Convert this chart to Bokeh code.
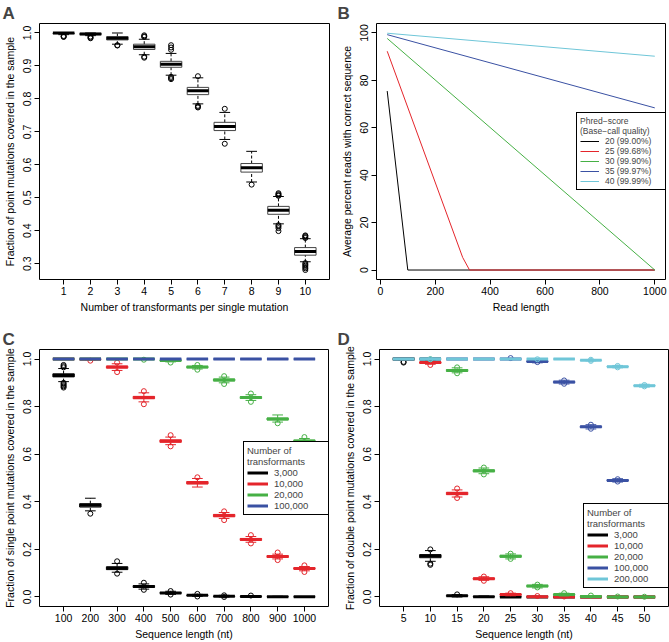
from bokeh.plotting import figure
from bokeh.layouts import column, row
from bokeh.models import Range1d, FixedTicker, Legend, LegendItem, PrintfTickFormatter
from bokeh.embed import file_html
from bokeh.resources import INLINE

FONT = "Liberation Sans"
BLACK = "#000000"
RED = "#E4252B"
GREEN = "#46B045"
BLUE = "#3A51A3"
CYAN = "#6FC6D8"

# ---------------- Panel A data ----------------
a_labels = ["1", "2", "3", "4", "5", "6", "7", "8", "9", "10"]
a_med = [1.000, 0.997, 0.984, 0.958, 0.905, 0.825, 0.716, 0.591, 0.462, 0.337]
a_q1 = [0.998, 0.995, 0.979, 0.950, 0.896, 0.813, 0.704, 0.578, 0.450, 0.326]
a_q3 = [1.000, 0.999, 0.989, 0.966, 0.914, 0.835, 0.729, 0.604, 0.474, 0.349]
a_lo = [0.995, 0.992, 0.966, 0.934, 0.872, 0.785, 0.677, 0.548, 0.421, 0.306]
a_hi = [1.000, 1.000, 1.000, 0.981, 0.938, 0.864, 0.759, 0.641, 0.504, 0.376]
a_out = [
    [0.991, 0.989, 0.988],
    [0.989, 0.986, 0.984],
    [0.962, 0.963],
    [0.993, 0.990, 0.988, 0.928, 0.925],
    [0.963, 0.956, 0.949, 0.867, 0.863, 0.860],
    [0.869, 0.779, 0.776, 0.774],
    [0.770, 0.664],
    [0.540],
    [0.514, 0.511, 0.508, 0.506, 0.417, 0.413, 0.408, 0.399],
    [0.386, 0.384, 0.381, 0.378, 0.302, 0.298, 0.294, 0.290, 0.286, 0.281],
]
a_yticks = [0.3, 0.4, 0.5, 0.6, 0.7, 0.8, 0.9, 1.0]

# ---------------- Panel B data ----------------
b_names = ["20 (99.00%)", "25 (99.68%)", "30 (99.90%)", "35 (99.97%)", "40 (99.99%)"]
b20_x = [25, 100, 1000]
b20_y = [75.5, 0, 0]
b25_x = [25, 300, 325, 1000]
b25_y = [92.3, 5.3, 0, 0]
b30_x = [25, 1000]
b30_y = [97.7, 0]
b35_x = [25, 1000]
b35_y = [99.3, 68.4]
b40_x = [25, 1000]
b40_y = [99.9, 90.2]
b_xticks = [0, 200, 400, 600, 800, 1000]
b_yticks = [0, 20, 40, 60, 80, 100]

# ---------------- Panel C data ----------------
c_labels = ["100", "200", "300", "400", "500", "600", "700", "800", "900", "1000"]
c_names = ["3,000", "10,000", "20,000", "100,000"]
c3_med = [0.931, 0.385, 0.121, 0.044, 0.017, 0.007, 0.003, 0.002, 0.001, 0.001]
c3_q1 = [0.925, 0.378, 0.115, 0.040, 0.015, 0.006, 0.002, 0.001, 0.0005, 0.0003]
c3_q3 = [0.938, 0.392, 0.127, 0.048, 0.019, 0.008, 0.004, 0.003, 0.0015, 0.001]
c3_lo = [0.905, 0.362, 0.104, 0.033, 0.011, 0.003, 0.0, 0.0, 0.0, 0.0]
c3_hi = [0.960, 0.415, 0.141, 0.055, 0.024, 0.011, 0.007, 0.005, 0.003, 0.002]
c3_out = [[0.975, 0.970, 0.965, 0.900, 0.895, 0.890, 0.885, 0.880], [0.350],
          [0.150, 0.098], [0.060, 0.030], [0.025, 0.010], [0.013, 0.002],
          [0.007, 0.0], [0.006], [], []]
c10_med = [1.000, 0.999, 0.966, 0.838, 0.655, 0.480, 0.342, 0.242, 0.170, 0.120]
c10_q1 = [1.000, 0.998, 0.962, 0.833, 0.650, 0.475, 0.337, 0.238, 0.166, 0.117]
c10_q3 = [1.000, 1.000, 0.970, 0.843, 0.660, 0.485, 0.347, 0.246, 0.174, 0.123]
c10_lo = [1.000, 0.996, 0.952, 0.820, 0.640, 0.462, 0.330, 0.230, 0.160, 0.110]
c10_hi = [1.000, 1.000, 0.980, 0.858, 0.672, 0.498, 0.355, 0.254, 0.180, 0.128]
c10_out = [[], [0.993], [0.985, 0.945], [0.865, 0.810], [0.680, 0.633], [0.503],
           [0.360, 0.323], [0.260, 0.225], [0.187, 0.155], [0.133, 0.105]]
c20_med = [1.0, 1.0, 1.0, 1.0, 0.994, 0.966, 0.912, 0.838, 0.748, 0.655]
c20_q1 = [1.0, 1.0, 1.0, 1.0, 0.992, 0.963, 0.908, 0.834, 0.744, 0.651]
c20_q3 = [1.0, 1.0, 1.0, 1.0, 0.996, 0.969, 0.916, 0.842, 0.752, 0.659]
c20_lo = [1.0, 1.0, 1.0, 0.999, 0.988, 0.958, 0.900, 0.826, 0.735, 0.644]
c20_hi = [1.0, 1.0, 1.0, 1.0, 1.0, 0.973, 0.924, 0.850, 0.765, 0.666]
c20_out = [[], [], [], [0.997], [0.985], [0.975, 0.955], [0.928, 0.895],
           [0.855, 0.820], [0.730], [0.672, 0.637]]
c100_med = [1.0] * 10
c100_q1 = [1.0] * 10
c100_q3 = [1.0] * 10
c100_lo = [1.0] * 10
c100_hi = [1.0] * 10
c100_out = [[] for _ in range(10)]
cd_yticks = [0.0, 0.2, 0.4, 0.6, 0.8, 1.0]

# ---------------- Panel D data ----------------
d_labels = ["5", "10", "15", "20", "25", "30", "35", "40", "45", "50"]
d_names = ["3,000", "10,000", "20,000", "100,000", "200,000"]
d3_med = [1.0, 0.172, 0.005, 0.001, 0.0, 0.0, 0.0, 0.0, 0.0, 0.0]
d3_q1 = [1.0, 0.165, 0.003, 0.0, 0.0, 0.0, 0.0, 0.0, 0.0, 0.0]
d3_q3 = [1.0, 0.178, 0.007, 0.002, 0.001, 0.0, 0.0, 0.0, 0.0, 0.0]
d3_lo = [0.995, 0.150, 0.0, 0.0, 0.0, 0.0, 0.0, 0.0, 0.0, 0.0]
d3_hi = [1.0, 0.195, 0.010, 0.004, 0.002, 0.0, 0.0, 0.0, 0.0, 0.0]
d3_out = [[0.988, 0.985], [0.200, 0.140, 0.135], [0.011], [], [], [], [], [], [], []]
d10_med = [1.0, 0.985, 0.435, 0.077, 0.010, 0.001, 0.0, 0.0, 0.0, 0.0]
d10_q1 = [1.0, 0.982, 0.430, 0.074, 0.008, 0.0005, 0.0, 0.0, 0.0, 0.0]
d10_q3 = [1.0, 0.988, 0.440, 0.080, 0.012, 0.0015, 0.0005, 0.0, 0.0, 0.0]
d10_lo = [1.0, 0.978, 0.420, 0.070, 0.005, 0.0, 0.0, 0.0, 0.0, 0.0]
d10_hi = [1.0, 0.995, 0.450, 0.085, 0.016, 0.003, 0.001, 0.0, 0.0, 0.0]
d10_out = [[], [0.975], [0.456, 0.416], [0.086, 0.068], [0.016], [0.004], [0.002],
           [], [], []]
d20_med = [1.0, 1.0, 0.952, 0.530, 0.171, 0.046, 0.010, 0.002, 0.0, 0.0]
d20_q1 = [1.0, 1.0, 0.948, 0.526, 0.167, 0.043, 0.008, 0.001, 0.0, 0.0]
d20_q3 = [1.0, 1.0, 0.956, 0.534, 0.175, 0.049, 0.012, 0.003, 0.0005, 0.0003]
d20_lo = [1.0, 0.999, 0.942, 0.518, 0.160, 0.038, 0.004, 0.0, 0.0, 0.0]
d20_hi = [1.0, 1.0, 0.963, 0.542, 0.181, 0.053, 0.016, 0.005, 0.002, 0.001]
d20_out = [[], [0.999], [0.965, 0.940], [0.544, 0.515], [0.182, 0.160],
           [0.052, 0.040], [0.016], [0.006], [0.002], [0.001]]
d100_labels = ["5", "10", "15", "20", "25", "30", "35", "40", "45"]
d100_med = [1.0, 1.0, 1.0, 1.0, 1.0, 0.990, 0.903, 0.715, 0.490]
d100_q1 = [1.0, 1.0, 1.0, 1.0, 1.0, 0.988, 0.900, 0.712, 0.487]
d100_q3 = [1.0, 1.0, 1.0, 1.0, 1.0, 0.992, 0.906, 0.718, 0.493]
d100_lo = [1.0, 1.0, 1.0, 1.0, 0.999, 0.984, 0.895, 0.706, 0.483]
d100_hi = [1.0, 1.0, 1.0, 1.0, 1.0, 0.996, 0.911, 0.724, 0.497]
d100_out = [[], [], [], [], [1.004], [0.987], [0.910, 0.896], [0.724, 0.707], [0.495, 0.485]]
d200_med = [1.0, 1.0, 1.0, 1.0, 1.0, 1.0, 1.0, 0.995, 0.968, 0.888]
d200_q1 = [1.0, 1.0, 1.0, 1.0, 1.0, 1.0, 1.0, 0.994, 0.966, 0.886]
d200_q3 = [1.0, 1.0, 1.0, 1.0, 1.0, 1.0, 1.0, 0.996, 0.970, 0.890]
d200_lo = [1.0, 1.0, 1.0, 1.0, 1.0, 1.0, 0.999, 0.992, 0.963, 0.882]
d200_hi = [1.0, 1.0, 1.0, 1.0, 1.0, 1.0, 1.0, 0.998, 0.973, 0.894]
d200_out = [[], [0.999], [], [], [], [0.999], [], [0.997, 0.992], [0.971, 0.965], [0.891, 0.885]]


def style(p, xticks, xlabels, yticks, yfmt, xlabel, ylabel, panel, title_offset):
    p.outline_line_color = "black"
    p.outline_line_width = 1
    p.outline_line_alpha = 1
    p.xgrid.visible = False
    p.ygrid.visible = False
    p.background_fill_color = "white"
    p.border_fill_color = "white"
    for ax in (p.xaxis[0], p.yaxis[0]):
        ax.axis_line_color = None
        ax.major_tick_out = 5
        ax.major_tick_in = 0
        ax.major_tick_line_color = "black"
        ax.minor_tick_line_color = None
        ax.major_label_text_font = FONT
        ax.major_label_text_font_size = "10.5px"
        ax.major_label_text_color = "black"
        ax.axis_label_text_font = FONT
        ax.axis_label_text_font_size = "10.5px"
        ax.axis_label_text_font_style = "normal"
        ax.axis_label_text_color = "black"
    p.xaxis.ticker = FixedTicker(ticks=xticks)
    if xlabels is not None:
        p.xaxis.major_label_overrides = {t: l for t, l in zip(xticks, xlabels)}
    p.yaxis.ticker = FixedTicker(ticks=yticks)
    if yfmt is not None:
        p.yaxis.formatter = PrintfTickFormatter(format=yfmt)
    p.yaxis.major_label_orientation = "vertical"
    p.xaxis.major_label_standoff = 2
    p.xaxis.axis_label_standoff = 3
    p.yaxis.major_label_standoff = 3
    p.yaxis.axis_label_standoff = 5
    p.xaxis.axis_label = xlabel
    p.yaxis.axis_label = ylabel
    p.title.text = panel
    p.title.text_font = FONT
    p.title.text_font_size = "17px"
    p.title.text_font_style = "bold"
    p.title.align = "left"
    p.title.standoff = 2
    p.title.offset = title_offset


def boxes(p, xs, med, q1, q3, lo, hi, outs, color, box_color, w=0.8):
    x0 = [x - w / 2 for x in xs]
    x1 = [x + w / 2 for x in xs]
    s0 = [x - w / 4 for x in xs]
    s1 = [x + w / 4 for x in xs]
    p.segment(x0=xs, y0=q3, x1=xs, y1=hi, line_color=color, line_width=1, line_dash="3 2")
    p.segment(x0=xs, y0=lo, x1=xs, y1=q1, line_color=color, line_width=1, line_dash="3 2")
    p.segment(x0=s0, y0=hi, x1=s1, y1=hi, line_color=color, line_width=1)
    p.segment(x0=s0, y0=lo, x1=s1, y1=lo, line_color=color, line_width=1)
    p.quad(left=x0, right=x1, bottom=q1, top=q3, fill_color=None, line_color=box_color, line_width=1)
    mr = p.segment(x0=x0, y0=med, x1=x1, y1=med, line_color=color, line_width=3)
    ox, oy = [], []
    for x, o in zip(xs, outs):
        ox += [x] * len(o)
        oy += o
    p.scatter(x=ox, y=oy, marker="circle", size=5, fill_color=None, line_color=color, line_width=1)
    return mr


def make_legend(items, title, loc, font_size, glyph_w, label_w, row_h, pad):
    leg = Legend(items=items, title=title, location=loc)
    leg.title_text_font = FONT
    leg.title_text_font_size = font_size
    leg.title_text_font_style = "normal"
    leg.title_text_line_height = 1.05
    leg.title_standoff = 0
    leg.label_text_font = FONT
    leg.label_text_font_size = font_size
    leg.border_line_color = "black"
    leg.border_line_width = 1
    leg.border_line_alpha = 1
    leg.background_fill_color = "white"
    leg.background_fill_alpha = 1
    leg.padding = pad
    leg.spacing = 0
    leg.margin = 0
    leg.label_standoff = 6
    leg.glyph_width = glyph_w
    leg.glyph_height = row_h
    leg.label_height = row_h
    leg.label_width = label_w
    return leg


# ---------------- Panel A ----------------
pA = figure(width=335, height=320, output_backend="svg", toolbar_location=None,
            x_range=Range1d(0.1, 10.9), y_range=Range1d(0.2522, 1.0288),
            min_border_left=39, min_border_right=6, min_border_top=23, min_border_bottom=39)
a_x = list(range(1, len(a_labels) + 1))
boxes(pA, a_x, a_med, a_q1, a_q3, a_lo, a_hi, a_out, BLACK, "#444444")
style(pA, a_x, a_labels, a_yticks, "%.1f",
      "Number of transformants per single mutation",
      "Fraction of point mutations covered in the sample", "A", -37)

# ---------------- Panel B ----------------
pB = figure(width=334, height=320, output_backend="svg", toolbar_location=None,
            x_range=Range1d(-14, 1039), y_range=Range1d(-4, 104),
            min_border_left=41, min_border_right=4, min_border_top=22, min_border_bottom=41)
b_series = [(b20_x, b20_y, BLACK), (b25_x, b25_y, RED), (b30_x, b30_y, GREEN),
            (b35_x, b35_y, BLUE), (b40_x, b40_y, CYAN)]
b_items = []
for (xs, ys, col), name in zip(b_series, b_names):
    r = pB.line(x=xs, y=ys, line_color=col, line_width=1)
    b_items.append(LegendItem(label=name, renderers=[r]))
style(pB, b_xticks, None, b_yticks, None,
      "Read length", "Average percent reads with correct sequence", "B", -39)
pB.add_layout(make_legend(b_items, "Phred\u2212score\n(Base\u2212call quality)", (200, 89),
                          "8.5px", 19, 58, 8, 3), "center")

# ---------------- Panel C ----------------
pC = figure(width=335, height=322, output_backend="svg", toolbar_location=None,
            x_range=Range1d(0.1, 10.9), y_range=Range1d(-0.04, 1.04),
            min_border_left=39, min_border_right=7, min_border_top=23, min_border_bottom=34)
c_x = list(range(1, len(c_labels) + 1))
c_series = [
    (c3_med, c3_q1, c3_q3, c3_lo, c3_hi, c3_out, BLACK),
    (c10_med, c10_q1, c10_q3, c10_lo, c10_hi, c10_out, RED),
    (c20_med, c20_q1, c20_q3, c20_lo, c20_hi, c20_out, GREEN),
    (c100_med, c100_q1, c100_q3, c100_lo, c100_hi, c100_out, BLUE),
]
c_items = []
for (med, q1, q3, lo, hi, out, col), name in zip(c_series, c_names):
    mr = boxes(pC, c_x, med, q1, q3, lo, hi, out, col, col)
    c_items.append(LegendItem(label=name, renderers=[mr]))
style(pC, c_x, c_labels, cd_yticks, "%.1f", "Sequence length (nt)",
      "Fraction of single point mutations covered in the sample", "C", -37)
pC.add_layout(make_legend(c_items, "Number of\ntransformants", (204, 91),
                          "9.5px", 21, 54, 9, 3), "center")

# ---------------- Panel D ----------------
pD = figure(width=334, height=322, output_backend="svg", toolbar_location=None,
            x_range=Range1d(0.1, 10.9), y_range=Range1d(-0.04, 1.04),
            min_border_left=44, min_border_right=1, min_border_top=29, min_border_bottom=34)
d_pos = {lab: i + 1 for i, lab in enumerate(d_labels)}
d_x = [d_pos[l] for l in d_labels]
d100_x = [d_pos[l] for l in d100_labels]
d_series = [
    (d_x, d3_med, d3_q1, d3_q3, d3_lo, d3_hi, d3_out, BLACK),
    (d_x, d10_med, d10_q1, d10_q3, d10_lo, d10_hi, d10_out, RED),
    (d_x, d20_med, d20_q1, d20_q3, d20_lo, d20_hi, d20_out, GREEN),
    (d100_x, d100_med, d100_q1, d100_q3, d100_lo, d100_hi, d100_out, BLUE),
    (d_x, d200_med, d200_q1, d200_q3, d200_lo, d200_hi, d200_out, CYAN),
]
d_items = []
for (xs, med, q1, q3, lo, hi, out, col), name in zip(d_series, d_names):
    mr = boxes(pD, xs, med, q1, q3, lo, hi, out, col, col)
    d_items.append(LegendItem(label=name, renderers=[mr]))
style(pD, d_x, d_labels, cd_yticks, "%.1f", "Sequence length (nt)",
      "Fraction of double point mutations covered in the sample", "D", -42)
pD.add_layout(make_legend(d_items, "Number of\ntransformants", (204, 18),
                          "9.5px", 21, 54, 9, 3), "center")

layout = column(row(pA, pB), row(pC, pD))
open("out.html", "w").write(file_html(layout, INLINE))
